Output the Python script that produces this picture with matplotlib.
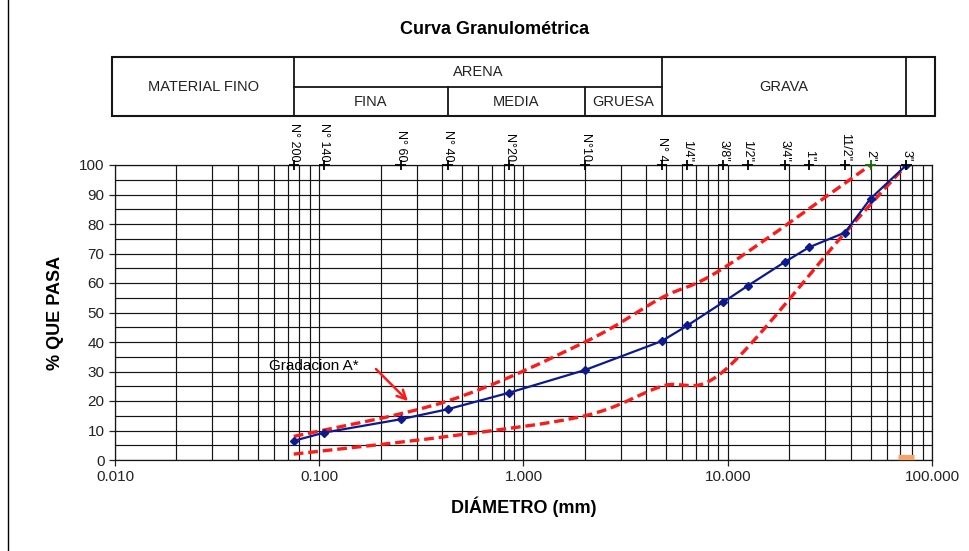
import numpy as np
import matplotlib.pyplot as plt
from matplotlib.path import Path
from matplotlib.patches import PathPatch, Rectangle
from matplotlib.lines import Line2D
from matplotlib.ticker import LogLocator, MultipleLocator, FuncFormatter, NullFormatter

plt.rcParams['font.family'] = ['Liberation Sans', 'DejaVu Sans']
plt.rcParams['lines.scale_dashes'] = False

# tamices
sieve_labels = ['N° 200', 'N° 140', 'N° 60', 'N° 40', 'N°20', 'N°10', 'N° 4',
                '1/4"', '3/8"', '1/2"', '3/4"', '1"', '11/2"', '2"', '3"']
sieve_mm = [0.075, 0.106, 0.25, 0.425, 0.85, 2.0, 4.75,
            6.35, 9.5, 12.5, 19.0, 25.0, 37.5, 50.0, 75.0]
pct_passing = [6.5, 9.3, 13.8, 17.2, 22.8, 30.5, 40.3,
               45.6, 53.5, 59.0, 67.1, 72.1, 77.1, 88.6, 100.0]
sieve_colors = ['black'] * 13 + ['#0A6E0A', 'black']

# limites de la gradacion A
upper_mm = [0.075, 0.425, 2.0, 4.75, 9.5, 50.0]
upper_pct = [8, 20, 40, 55, 65, 100]
lower_mm = [0.075, 0.425, 2.0, 4.75, 9.5, 37.5, 75.0]
lower_pct = [2, 8, 15, 25, 30, 77, 100]

extra_mm = [75.0]
extra_pct = [1.0]

# tabla de clasificacion
table_edges = [0.0097, 0.075, 0.425, 2.0, 4.75, 75.0, 103.0]
sub_labels = ['FINA', 'MEDIA', 'GRUESA']


def smooth_path(xs, ys):
    # curva suavizada tipo Excel (bezier en escala log)
    lx = np.log10(xs)
    y = np.asarray(ys, float)
    n = len(lx)
    verts = [(xs[0], y[0])]
    codes = [Path.MOVETO]
    for i in range(n - 1):
        i0 = max(i - 1, 0)
        i3 = min(i + 2, n - 1)
        c1x = lx[i] + (lx[i + 1] - lx[i0]) / 6
        c1y = y[i] + (y[i + 1] - y[i0]) / 6
        c2x = lx[i + 1] - (lx[i3] - lx[i]) / 6
        c2y = y[i + 1] - (y[i3] - y[i]) / 6
        verts += [(10 ** c1x, c1y), (10 ** c2x, c2y), (xs[i + 1], y[i + 1])]
        codes += [Path.CURVE4] * 3
    return Path(verts, codes)


fig = plt.figure(figsize=(9.7, 5.51), dpi=100)
ax = fig.add_axes([115 / 970, 91 / 551, 817 / 970, 295 / 551])

ax.set_xscale('log')
ax.set_xlim(0.01, 100)
ax.set_ylim(0, 100)
ax.xaxis.set_major_locator(LogLocator(base=10, numticks=10))
ax.xaxis.set_minor_locator(LogLocator(base=10, subs=np.arange(2, 10), numticks=20))
ax.xaxis.set_major_formatter(FuncFormatter(lambda v, p: f'{v:.3f}'))
ax.xaxis.set_minor_formatter(NullFormatter())
ax.yaxis.set_major_locator(MultipleLocator(10))
ax.yaxis.set_minor_locator(MultipleLocator(5))
ax.tick_params(which='major', direction='out', length=4, width=0.9, labelsize=11, colors='#222222')
ax.tick_params(which='minor', length=0)
ax.grid(which='both', color='#151515', lw=0.85)
for sp in ax.spines.values():
    sp.set_color('#151515')
    sp.set_linewidth(0.9)

# limites
for xs, ys in [(upper_mm, upper_pct), (lower_mm, lower_pct)]:
    ax.add_patch(PathPatch(smooth_path(xs, ys), fill=False, edgecolor='#FF1A1A',
                           lw=2.4, linestyle=(0, (7, 3.5)), zorder=3))

ax.plot(sieve_mm, pct_passing, color='#0D1A8F', lw=1.6, marker='D', ms=4.5, zorder=4)
ax.plot(extra_mm, extra_pct, marker='_', ms=11, mew=3.8, color='#F4A46C', clip_on=False, zorder=4)

# marcas de tamices arriba
ax.scatter(sieve_mm, [100] * len(sieve_mm), marker='+', s=55, c=sieve_colors,
           linewidths=1.3, clip_on=False, zorder=5)
for s, lab in zip(sieve_mm, sieve_labels):
    ax.annotate(lab, (s, 100), xytext=(0, 2.5), textcoords='offset points',
                rotation=270, ha='center', va='bottom', fontsize=9, annotation_clip=False)

ax.text(0.0568, 32, 'Gradacion A*', va='center', fontsize=11)
ax.annotate('', xy=(0.278, 19.3), xytext=(0.1854, 31.5),
            arrowprops=dict(arrowstyle='->', color='#FF1A1A', lw=1.8, mutation_scale=16))

ax.set_xlabel('DIÁMETRO (mm)', fontsize=13, fontweight='bold', labelpad=9)
ax.set_ylabel('% QUE PASA', fontsize=13, fontweight='bold', labelpad=11)

# tabla
bot, mid, top = 116.6, 126.4, 136.6
kw = dict(color='#151515', lw=1.3, clip_on=False)
ax.add_patch(Rectangle((table_edges[0], bot), table_edges[-1] - table_edges[0], top - bot,
                       fill=False, edgecolor='#151515', lw=1.5, clip_on=False))
for e in [table_edges[1], table_edges[4], table_edges[5]]:
    ax.plot([e, e], [bot, top], **kw)
for e in [table_edges[2], table_edges[3]]:
    ax.plot([e, e], [bot, mid], **kw)
ax.plot([table_edges[1], table_edges[4]], [mid, mid], **kw)


def gmid(a, b):
    return np.sqrt(a * b)


tkw = dict(ha='center', va='center', fontsize=10.5, color='#222222')
ax.text(gmid(table_edges[0], table_edges[1]), (bot + top) / 2, 'MATERIAL FINO', **tkw)
ax.text(gmid(table_edges[1], table_edges[4]), (mid + top) / 2, 'ARENA', **tkw)
for i, lab in enumerate(sub_labels):
    ax.text(gmid(table_edges[i + 1], table_edges[i + 2]), (bot + mid) / 2, lab, **tkw)
ax.text(gmid(table_edges[4], table_edges[5]), (bot + top) / 2, 'GRAVA', **tkw)

fig.text(495 / 970, 1 - 29 / 551, 'Curva Granulométrica', ha='center', va='center',
         fontsize=13, fontweight='bold')
fig.add_artist(Line2D([8 / 970, 8 / 970], [0, 1], transform=fig.transFigure, color='black', lw=1))

fig.savefig('out.png', dpi=100)
